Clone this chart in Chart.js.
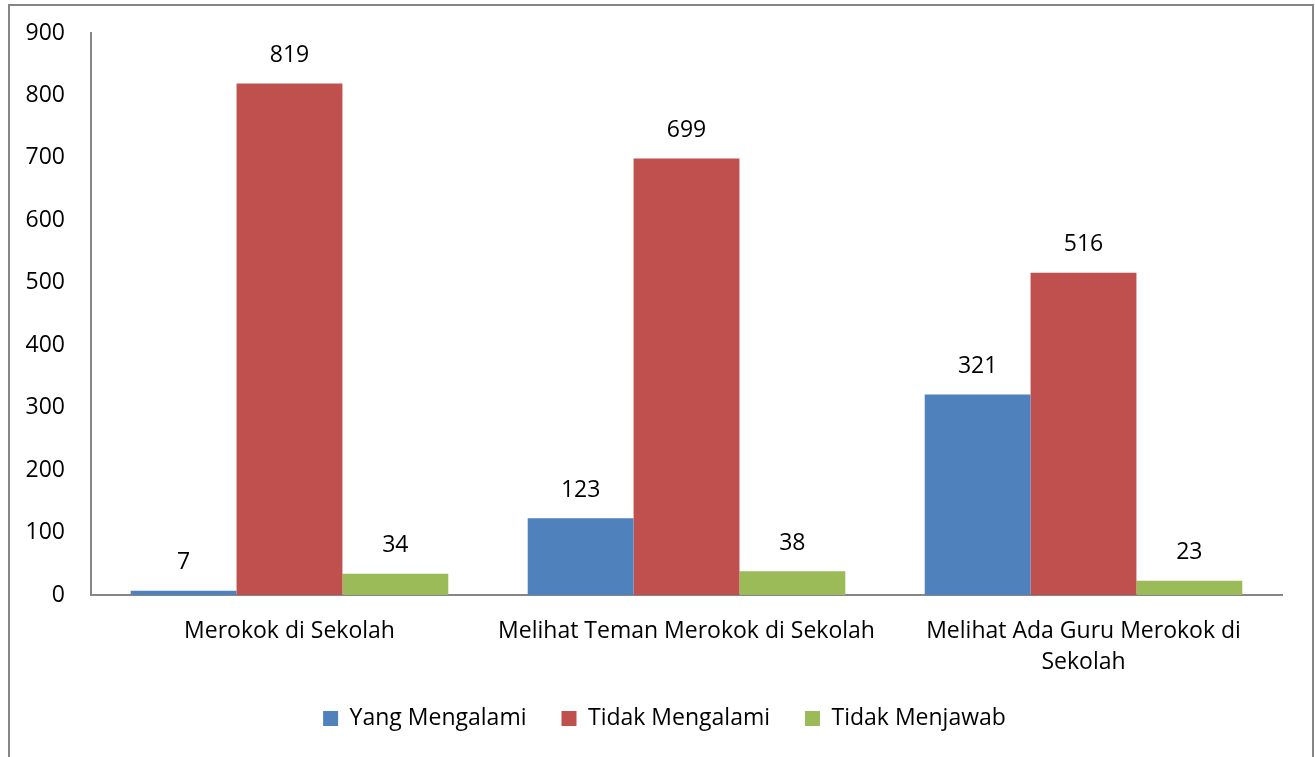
<!DOCTYPE html>
<html>
<head>
<meta charset="utf-8">
<script src="https://cdn.jsdelivr.net/npm/chart.js@4"></script>
<style>
html, body { margin: 0; padding: 0; background: #ffffff; overflow: hidden; }
#wrap { position: absolute; left: 0; top: 0; width: 1315px; height: 757px; }
#frame { position: absolute; left: 8px; top: 4px; width: 1302px; height: 800px; border: 2px solid #868686; pointer-events: none; }
</style>
</head>
<body>
<div id="wrap"><canvas id="chart"></canvas></div>
<div id="frame"></div>
<script>
const categories = [
  'Merokok di Sekolah',
  'Melihat Teman Merokok di Sekolah',
  ['Melihat Ada Guru Merokok di', 'Sekolah']
];
const yangMengalami = [7, 123, 321];
const tidakMengalami = [819, 699, 516];
const tidakMenjawab = [34, 38, 23];
const yTicks = [0, 100, 200, 300, 400, 500, 600, 700, 800, 900];

const FONT = 'Open Sans, sans-serif';
const SIZE = 23;

// value labels on top of each bar
const valueLabels = {
  id: 'valueLabels',
  afterDatasetsDraw(chart) {
    const ctx = chart.ctx;
    ctx.save();
    ctx.font = SIZE + 'px ' + FONT;
    ctx.fillStyle = '#000000';
    ctx.textAlign = 'center';
    ctx.textBaseline = 'middle';
    chart.data.datasets.forEach((ds, i) => {
      chart.getDatasetMeta(i).data.forEach((bar, j) => {
        ctx.fillText(ds.data[j], bar.x, bar.y - 28);
      });
    });
    ctx.restore();
  }
};

const ctx = document.getElementById('chart').getContext('2d');
new Chart(ctx, {
  type: 'bar',
  data: {
    labels: categories,
    datasets: [{
      label: 'Yang Mengalami',
      data: yangMengalami,
      backgroundColor: '#4F81BD'
    }, {
      label: 'Tidak Mengalami',
      data: tidakMengalami,
      backgroundColor: '#C0504D'
    }, {
      label: 'Tidak Menjawab',
      data: tidakMenjawab,
      backgroundColor: '#9BBB59'
    }]
  },
  options: {
    responsive: true,
    maintainAspectRatio: false,
    animation: false,
    layout: {
      padding: { top: 33, right: 0, bottom: 17, left: 14 }
    },
    datasets: {
      bar: { categoryPercentage: 0.8, barPercentage: 1.0 }
    },
    plugins: {
      legend: {
        position: 'bottom',
        labels: {
          boxWidth: 15,
          boxHeight: 15,
          padding: 35,
          color: '#000000',
          font: { size: SIZE, family: FONT }
        }
      },
      tooltip: { enabled: false }
    },
    scales: {
      x: {
        grid: { display: false, drawTicks: false },
        border: { color: '#868686', width: 2 },
        ticks: {
          color: '#000000',
          font: { size: SIZE, family: FONT, lineHeight: 1.35 },
          padding: 21,
          maxRotation: 0,
          minRotation: 0
        },
        afterFit: function (scale) { scale.height = 77; }
      },
      y: {
        min: 0,
        max: 900,
        grid: { display: false, drawTicks: false },
        border: { color: '#868686', width: 2 },
        afterBuildTicks: function (scale) {
          scale.ticks = yTicks.map(v => ({ value: v }));
        },
        ticks: {
          color: '#000000',
          font: { size: SIZE, family: FONT },
          padding: 26
        },
        afterFit: function (scale) {
          scale.width = 77;
          scale.paddingTop = 0;
          scale.paddingBottom = 0;
        }
      },
      // empty right-hand spacer so the plot stops short of the frame
      spacer: {
        type: 'linear',
        position: 'right',
        grid: { display: false, drawTicks: false },
        border: { display: false },
        ticks: { display: false },
        afterFit: function (scale) {
          scale.width = 33;
          scale.paddingTop = 0;
          scale.paddingBottom = 0;
        }
      }
    }
  },
  plugins: [valueLabels]
});
</script>
</body>
</html>
